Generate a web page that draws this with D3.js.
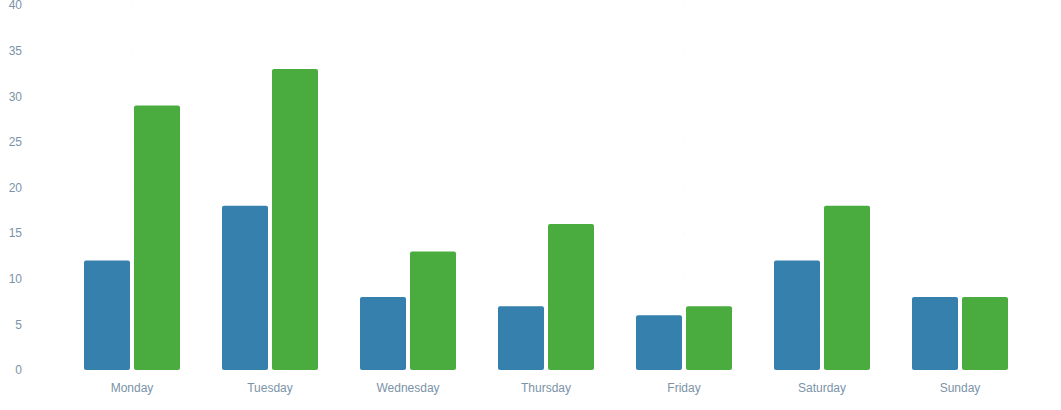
<!DOCTYPE html>
<html>
<head>
<meta charset="utf-8">
<script src="https://cdn.jsdelivr.net/npm/d3@7"></script>
<style>
  body { margin: 0; background: #fff; }
  text { font-family: "Liberation Sans", Arial, sans-serif; }
</style>
</head>
<body>
<svg id="chart"></svg>
<script>
const width = 1061;
const height = 410;

const days = ['Monday', 'Tuesday', 'Wednesday', 'Thursday', 'Friday', 'Saturday', 'Sunday'];
const seriesA = [12, 18, 8, 7, 6, 12, 8];
const seriesB = [29, 33, 13, 16, 7, 18, 8];
const yTicks = [0, 5, 10, 15, 20, 25, 30, 35, 40];

const colors = {a: '#3680ad', b: '#4aab3e'};
const textColor = '#7b93a8';

const svg = d3.select('#chart')
    .attr('width', width)
    .attr('height', height);

const x0 = d3.scaleBand().domain(days).range([63, 1029])
    .paddingInner(42 / 138).paddingOuter(21 / 138);
const x1 = d3.scaleBand().domain(['a', 'b']).range([0, x0.bandwidth()]).paddingInner(0.08);
const y = d3.scaleLinear().domain([0, 40]).range([370, 5]);

// faint grid dots where gridlines meet category centers
const grid = svg.append('g');
yTicks.slice(1).forEach(t => {
    days.forEach(d => {
        grid.append('rect')
            .attr('x', x0(d) + x0.bandwidth() / 2 - 0.5)
            .attr('y', y(t) - 0.5)
            .attr('width', 1)
            .attr('height', 1)
            .attr('fill', '#f2f2f2');
    });
});

const yAxis = svg.append('g')
    .attr('transform', 'translate(22, 0)')
    .call(d3.axisLeft(y).tickValues(yTicks).tickSize(0).tickPadding(0));
yAxis.select('.domain').remove();
yAxis.selectAll('text').attr('fill', textColor).style('font-size', '12px');

const xAxis = svg.append('g')
    .attr('transform', 'translate(0, 379)')
    .call(d3.axisBottom(x0).tickSize(0).tickPadding(4));
xAxis.select('.domain').remove();
xAxis.selectAll('text').attr('fill', textColor).style('font-size', '12px');

const rows = days.map((d, i) => ({day: d, a: seriesA[i], b: seriesB[i]}));

const groups = svg.append('g').selectAll('g')
    .data(rows)
    .join('g')
    .attr('transform', d => `translate(${x0(d.day)}, 0)`);

groups.selectAll('rect')
    .data(d => ['a', 'b'].map(k => ({key: k, value: d[k]})))
    .join('rect')
    .attr('x', d => x1(d.key))
    .attr('y', d => y(d.value))
    .attr('width', x1.bandwidth())
    .attr('height', d => y(0) - y(d.value))
    .attr('rx', 2)
    .attr('fill', d => colors[d.key]);
</script>
</body>
</html>
